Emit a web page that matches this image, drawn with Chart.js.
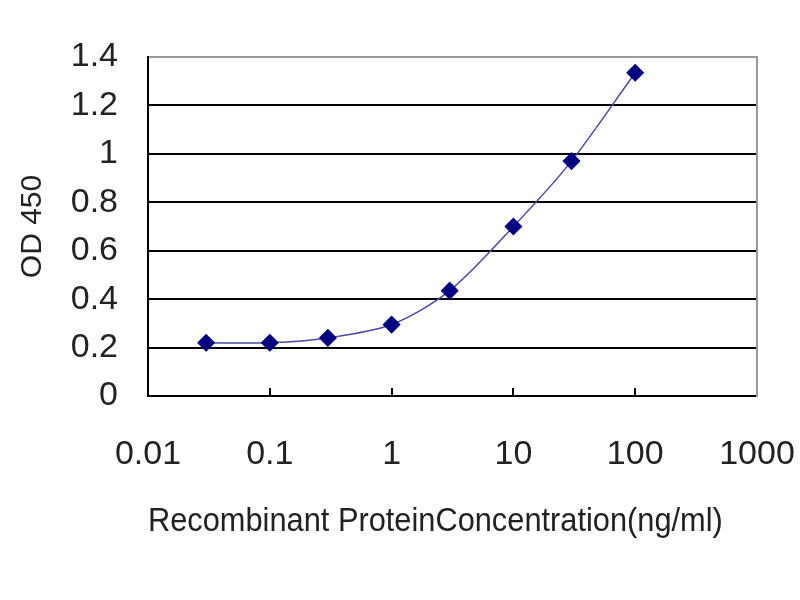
<!DOCTYPE html>
<html>
<head>
<meta charset="utf-8">
<script src="https://cdn.jsdelivr.net/npm/chart.js@4"></script>
<style>
  html, body { margin: 0; padding: 0; background: #fff; }
  #wrap { width: 800px; height: 600px; }
</style>
</head>
<body>
<div id="wrap"><canvas id="chart-od"></canvas></div>
<script>
// concentration (ng/ml) and OD 450
const concentrations = [0.03, 0.1, 0.3, 1, 3, 10, 30, 100];
const odValues = [0.22, 0.22, 0.24, 0.295, 0.435, 0.70, 0.97, 1.335];
const xTicks = [0.01, 0.1, 1, 10, 100, 1000];
const yTicks = [0, 0.2, 0.4, 0.6, 0.8, 1, 1.2, 1.4];

const font = "'Liberation Sans', Arial, sans-serif";

document.addEventListener("DOMContentLoaded", () => {
    const ctx = document.getElementById("chart-od");

    new Chart(ctx, {
        type: "line",
        data: {
            datasets: [{
                label: "OD 450",
                data: concentrations.map((c, i) => ({ x: c, y: odValues[i] })),
                borderColor: "#4a4aa8",
                borderWidth: 1.5,
                tension: 0.3,
                pointStyle: "rectRot",
                pointRadius: 8,
                pointBackgroundColor: "#000080",
                pointBorderColor: "#000080",
                fill: false
            }]
        },
        options: {
            responsive: true,
            maintainAspectRatio: false,
            animation: false,
            layout: { padding: { top: 57, right: 43, bottom: 0, left: 0 } },
            plugins: { legend: { display: false }, tooltip: { enabled: false } },
            scales: {
                x: {
                    type: "logarithmic",
                    min: 0.01,
                    max: 1000,
                    afterBuildTicks: (s) => { s.ticks = xTicks.map(v => ({ value: v })); },
                    afterFit: (s) => {
                        s.height = 204;
                        s.paddingLeft = 0;
                        s.paddingRight = 0;
                    },
                    grid: {
                        drawOnChartArea: false,
                        drawTicks: true,
                        tickLength: -8,
                        color: "#000",
                        lineWidth: 2
                    },
                    border: { color: "#000", width: 2 },
                    ticks: {
                        padding: 46,
                        color: "#222",
                        font: { family: font, size: 34 },
                        maxRotation: 0,
                        callback: (v) => String(v)
                    },
                    title: {
                        display: true,
                        text: "Recombinant ProteinConcentration(ng/ml)    ",
                        color: "#222",
                        font: { family: font, size: 34 },
                        padding: { top: 0, bottom: 58 }
                    }
                },
                y: {
                    min: 0,
                    max: 1.4,
                    afterBuildTicks: (s) => { s.ticks = yTicks.map(v => ({ value: v })); },
                    afterFit: (s) => { s.width = 148; },
                    grid: {
                        drawTicks: false,
                        color: (c) => c.tick && c.tick.value === 1.4 ? "#999" : "#000",
                        lineWidth: 2
                    },
                    border: { color: "#000", width: 2 },
                    ticks: {
                        padding: 30,
                        color: "#222",
                        font: { family: font, size: 34 },
                        callback: (v) => String(v)
                    },
                    title: {
                        display: true,
                        text: "OD 450",
                        color: "#222",
                        font: { family: font, size: 30 },
                        padding: { top: 15, bottom: 0 }
                    }
                },
                y2: {
                    position: "right",
                    min: 0,
                    max: 1.4,
                    afterFit: (s) => { s.width = 0; },
                    grid: { display: false, drawTicks: false },
                    border: { color: "#999", width: 2 },
                    ticks: { display: false }
                }
            }
        }
    });
});
</script>
</body>
</html>
